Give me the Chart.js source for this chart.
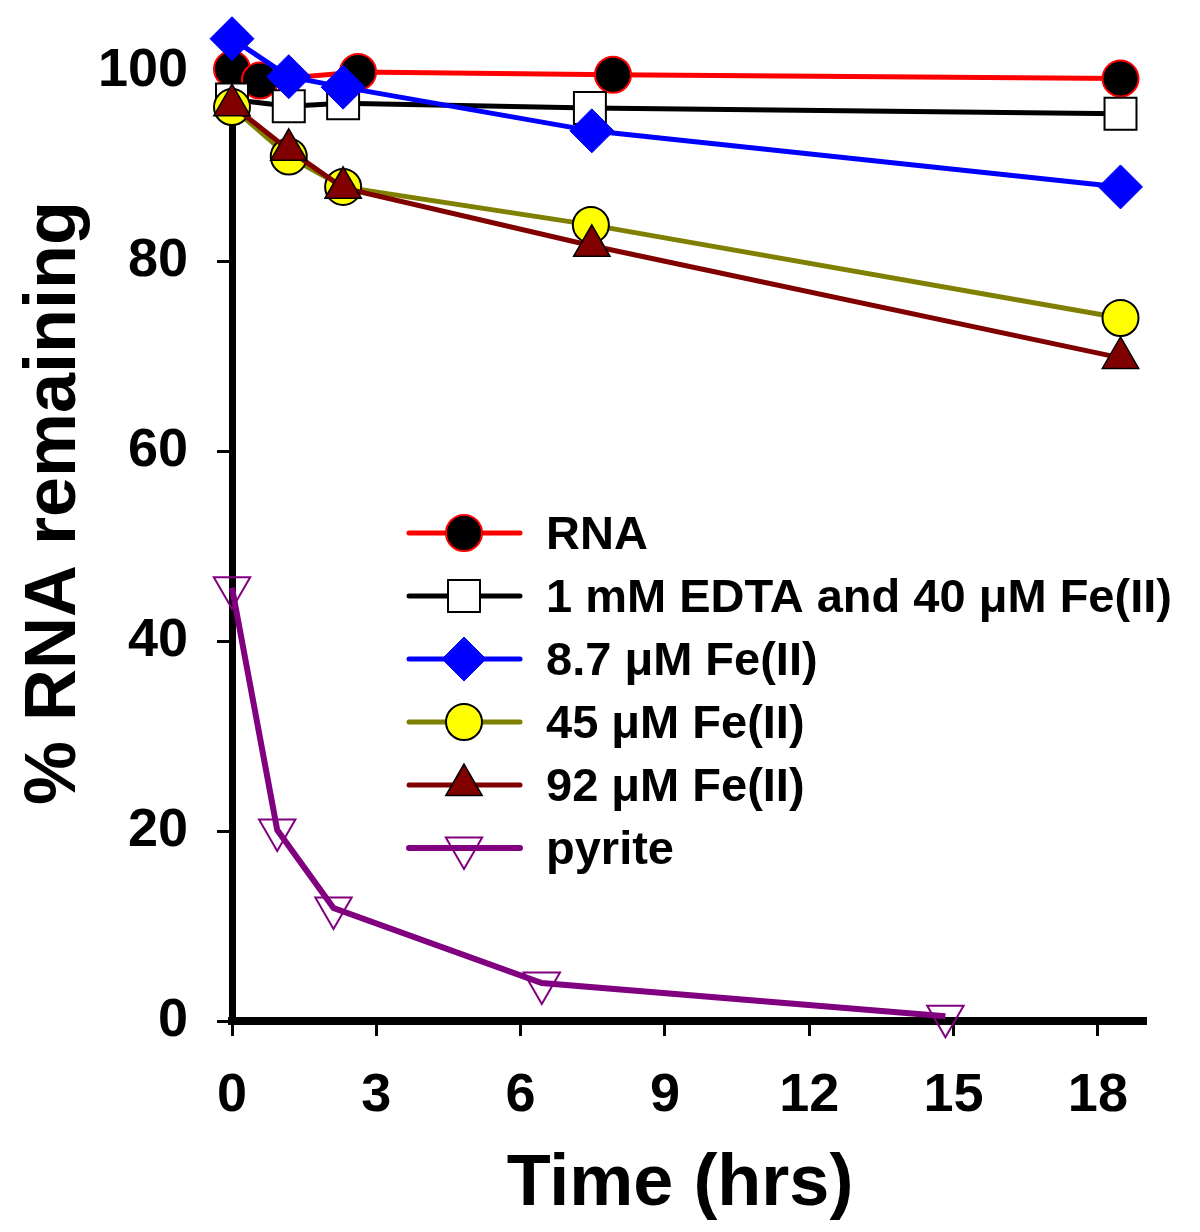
<!DOCTYPE html>
<html>
<head>
<meta charset="utf-8">
<script src="https://cdn.jsdelivr.net/npm/chart.js@4.4.1/dist/chart.umd.min.js"></script>
<style>
  body { margin: 0; background: #fff; }
</style>
</head>
<body>
<canvas id="grafico" width="1200" height="1232"></canvas>
<script>
// valores (tiempo en horas, % de RNA restante)
const rnaX = [0, 0.58, 2.62, 7.92, 18.47];
const rnaY = [100.2, 99.0, 99.9, 99.6, 99.2];

const edtaX = [0, 1.18, 2.31, 7.44, 18.47];
const edtaY = [97.0, 96.3, 96.6, 96.1, 95.5];

const fe87X = [0, 1.18, 2.31, 7.48, 18.47];
const fe87Y = [103.4, 99.4, 98.3, 93.7, 87.8];

const fe45X = [0, 1.18, 2.31, 7.46, 18.47];
const fe45Y = [96.2, 91.0, 87.8, 83.8, 74.0];

const fe92X = [0, 1.18, 2.31, 7.48, 18.47];
const fe92Y = [96.4, 91.7, 87.7, 81.6, 69.8];

const pyriteX = [0, 0.94, 2.11, 6.44, 14.83];
const pyriteY = [45.6, 20.1, 11.9, 4.0, 0.5];

const etiquetas = ['RNA', '1 mM EDTA and 40 \u03bcM Fe(II)', '8.7 \u03bcM Fe(II)', '45 \u03bcM Fe(II)', '92 \u03bcM Fe(II)', 'pyrite'];
const xTicks = [0, 3, 6, 9, 12, 15, 18];
const yTicks = [0, 20, 40, 60, 80, 100];

const fuente = '"Liberation Sans", Arial, sans-serif';

const puntos = (xs, ys) => xs.map((x, i) => ({ x: x, y: ys[i] }));

const serie = (label, xs, ys, estilo, orden) => Object.assign({
  label: label,
  data: puntos(xs, ys),
  borderWidth: 5,
  pointBorderWidth: 2,
  clip: false,
  order: orden
}, estilo);

const datasets = [
  serie(etiquetas[0], rnaX, rnaY, {
    borderColor: '#ff0000', pointBackgroundColor: '#000000', pointBorderColor: '#ff0000',
    pointStyle: 'circle', pointRadius: 18
  }, 6),
  serie(etiquetas[1], edtaX, edtaY, {
    borderColor: '#000000', pointBackgroundColor: '#ffffff', pointBorderColor: '#000000',
    pointStyle: 'rect', pointRadius: 22.6
  }, 5),
  serie(etiquetas[2], fe87X, fe87Y, {
    borderColor: '#0000ff', pointBackgroundColor: '#0000ff', pointBorderColor: '#0000ff',
    pointStyle: 'rectRot', pointRadius: 22, pointBorderWidth: 1
  }, 4),
  serie(etiquetas[3], fe45X, fe45Y, {
    borderColor: '#808000', pointBackgroundColor: '#ffff00', pointBorderColor: '#000000',
    pointStyle: 'circle', pointRadius: 18
  }, 3),
  serie(etiquetas[4], fe92X, fe92Y, {
    borderColor: '#800000', pointBackgroundColor: '#800000', pointBorderColor: '#000000',
    pointStyle: 'triangle', pointRadius: 21, pointBorderWidth: 1.5
  }, 2),
  serie(etiquetas[5], pyriteX, pyriteY, {
    borderColor: '#800080', pointBackgroundColor: 'rgba(0,0,0,0)', pointBorderColor: '#800080',
    pointStyle: 'triangle', pointRotation: 180, pointRadius: 21, borderWidth: 6
  }, 1)
];

// plugin propio: titulos de ejes y leyenda con linea + marcador
const extras = {
  id: 'extras',
  afterDraw(chart) {
    const ctx = chart.ctx;
    const area = chart.chartArea;
    ctx.save();
    ctx.fillStyle = '#000';

    // titulo eje x
    ctx.font = 'bold 72px ' + fuente;
    ctx.textAlign = 'center';
    ctx.textBaseline = 'alphabetic';
    ctx.fillText('Time (hrs)', 680, 1205);

    // titulo eje y
    ctx.save();
    ctx.translate(75, 503);
    ctx.rotate(-Math.PI / 2);
    ctx.fillText('% RNA remaining', 0, 0);
    ctx.restore();

    // leyenda
    const x0 = area.left + 177;
    const y0 = 533;
    ctx.font = 'bold 47px ' + fuente;
    ctx.textAlign = 'left';
    chart.data.datasets.forEach((ds, i) => {
      const y = y0 + i * 63;
      ctx.strokeStyle = ds.borderColor;
      ctx.lineWidth = ds.borderWidth;
      ctx.lineCap = 'round';
      ctx.beginPath();
      ctx.moveTo(x0, y);
      ctx.lineTo(x0 + 111, y);
      ctx.stroke();
      ctx.lineCap = 'butt';
      ctx.fillStyle = ds.pointBackgroundColor;
      ctx.strokeStyle = ds.pointBorderColor;
      ctx.lineWidth = ds.pointBorderWidth;
      Chart.helpers.drawPoint(ctx, {
        pointStyle: ds.pointStyle,
        radius: ds.pointRadius,
        rotation: ds.pointRotation || 0,
        borderWidth: ds.pointBorderWidth
      }, x0 + 55, y);
      ctx.fillStyle = '#000';
      ctx.fillText(ds.label, x0 + 137, y + 16);
    });
    ctx.restore();
  }
};

const config = {
  type: 'line',
  data: { datasets: datasets },
  options: {
    responsive: false,
    animation: false,
    devicePixelRatio: 1,
    layout: { padding: { top: 33, right: 54, left: 0, bottom: 0 } },
    plugins: {
      legend: { display: false },
      tooltip: { enabled: false }
    },
    scales: {
      x: {
        type: 'linear',
        min: 0,
        max: 19,
        afterBuildTicks: (scale) => { scale.ticks = xTicks.map(v => ({ value: v })); },
        afterFit: (scale) => { scale.height = 211; scale.paddingLeft = 0; scale.paddingRight = 0; },
        grid: { drawOnChartArea: false, drawTicks: true, tickLength: 15, tickWidth: 3, tickColor: '#000' },
        border: { display: true, width: 8, color: '#000' },
        ticks: { color: '#000', padding: 28, font: { family: fuente, size: 54, weight: 'bold' } }
      },
      y: {
        type: 'linear',
        min: 0,
        max: 104,
        afterBuildTicks: (scale) => { scale.ticks = yTicks.map(v => ({ value: v })); },
        afterFit: (scale) => { scale.width = 232; scale.paddingTop = 0; scale.paddingBottom = 0; },
        grid: { drawOnChartArea: false, drawTicks: true, tickLength: 15, tickWidth: 3, tickColor: '#000' },
        border: { display: true, width: 7, color: '#000' },
        ticks: { color: '#000', padding: 29, font: { family: fuente, size: 54, weight: 'bold' } }
      }
    }
  },
  plugins: [extras]
};

const grafico = new Chart(document.getElementById('grafico'), config);
</script>
</body>
</html>
